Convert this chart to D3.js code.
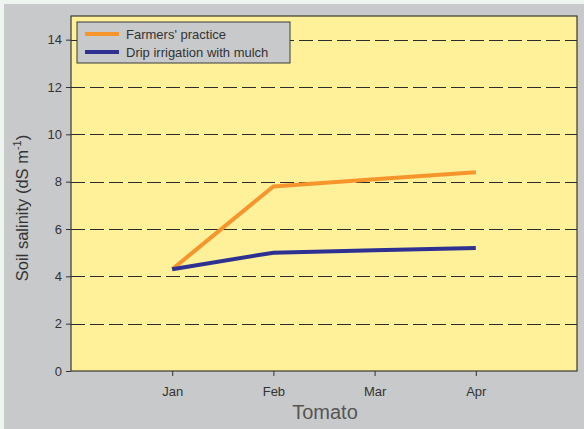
<!DOCTYPE html>
<html lang="en">
<head>
    <meta charset="UTF-8">
    <title>Soil salinity - Tomato</title>
    <script src="https://d3js.org/d3.v7.min.js"></script>
    <style>
        body {
            margin: 0;
            padding: 0;
            overflow: hidden;
            background-color: #eef5f0;
        }
        text {
            font-family: "Liberation Sans", Arial, sans-serif;
        }
    </style>
</head>
<body>
    <div id="chart"></div>
    <script>
        // Chart data
        const months = ["Jan", "Feb", "Mar", "Apr"];
        const farmersPractice = [4.3, 7.8, 8.1, 8.4];
        const dripMulch = [4.3, 5.0, 5.1, 5.2];
        const yTicks = [0, 2, 4, 6, 8, 10, 12, 14];
        const seriesNames = ["Farmers' practice", "Drip irrigation with mulch"];
        const seriesColors = ["#f7952d", "#2e3192"];

        const width = 584;
        const height = 429;
        const margin = {top: 16, right: 7, bottom: 58, left: 71};

        const svg = d3.select("#chart")
            .append("svg")
            .attr("width", width)
            .attr("height", height);

        // grey panel
        svg.append("rect")
            .attr("x", 4)
            .attr("y", 4)
            .attr("width", width - 4)
            .attr("height", height - 4)
            .attr("fill", "#c8c9cb");

        // months sit at 1..4 on a 0..5 axis
        const x = d3.scaleLinear()
            .domain([0, months.length + 1])
            .range([margin.left, width - margin.right]);

        const y = d3.scaleLinear()
            .domain([0, 15])
            .range([height - margin.bottom, margin.top]);

        // plot area
        svg.append("rect")
            .attr("x", margin.left)
            .attr("y", margin.top)
            .attr("width", width - margin.right - margin.left)
            .attr("height", height - margin.bottom - margin.top)
            .attr("fill", "#fef199")
            .attr("stroke", "#3a3a30")
            .attr("stroke-width", 1.2);

        // dashed gridlines
        svg.selectAll(".grid")
            .data(yTicks.filter(d => d > 0))
            .enter().append("line")
            .attr("class", "grid")
            .attr("x1", margin.left)
            .attr("x2", width - margin.right)
            .attr("y1", d => Math.round(y(d)) + 0.5)
            .attr("y2", d => Math.round(y(d)) + 0.5)
            .attr("stroke", "#2b2b2b")
            .attr("stroke-width", 1)
            .attr("stroke-dasharray", "14,5");

        // y axis
        const yAxis = d3.axisLeft(y)
            .tickValues(yTicks)
            .tickSize(5)
            .tickPadding(4);
        const gy = svg.append("g")
            .attr("transform", `translate(${margin.left},0)`)
            .call(yAxis);
        gy.select(".domain").remove();
        gy.selectAll("line").attr("stroke", "#333");
        gy.selectAll("text")
            .attr("font-size", 13)
            .attr("fill", "#333");

        // x axis
        const xAxis = d3.axisBottom(x)
            .tickValues(d3.range(1, months.length + 1))
            .tickFormat((d, i) => months[i])
            .tickSize(5)
            .tickPadding(11);
        const gx = svg.append("g")
            .attr("transform", `translate(0,${height - margin.bottom})`)
            .call(xAxis);
        gx.select(".domain").remove();
        gx.selectAll("line").attr("stroke", "#333");
        gx.selectAll("text")
            .attr("font-size", 13)
            .attr("fill", "#333");

        // axis titles
        svg.append("text")
            .attr("x", 325)
            .attr("y", 419)
            .attr("text-anchor", "middle")
            .attr("font-size", 20)
            .attr("fill", "#555")
            .text("Tomato");

        const yTitle = svg.append("text")
            .attr("transform", "translate(28,208) rotate(-90)")
            .attr("text-anchor", "middle")
            .attr("font-size", 16.5)
            .attr("fill", "#333");
        yTitle.append("tspan").text("Soil salinity (dS m");
        yTitle.append("tspan").attr("dy", -7).attr("font-size", 11).text("-1");
        yTitle.append("tspan").attr("dy", 7).text(")");

        // lines
        const line = d3.line()
            .x((d, i) => x(i + 1))
            .y(d => y(d));

        [farmersPractice, dripMulch].forEach((series, k) => {
            svg.append("path")
                .datum(series)
                .attr("fill", "none")
                .attr("stroke", seriesColors[k])
                .attr("stroke-width", 4)
                .attr("d", line);
        });

        // legend
        const legend = svg.append("g").attr("transform", "translate(77,22)");
        legend.append("rect")
            .attr("width", 213)
            .attr("height", 41)
            .attr("fill", "#c8c9cb")
            .attr("stroke", "#3a3a3a")
            .attr("stroke-width", 1);
        seriesNames.forEach((name, k) => {
            legend.append("line")
                .attr("x1", 8)
                .attr("x2", 42)
                .attr("y1", 12 + k * 18)
                .attr("y2", 12 + k * 18)
                .attr("stroke", seriesColors[k])
                .attr("stroke-width", 4);
            legend.append("text")
                .attr("x", 49)
                .attr("y", 17 + k * 18)
                .attr("font-size", 13)
                .attr("fill", "#333")
                .text(name);
        });
    </script>
</body>
</html>
